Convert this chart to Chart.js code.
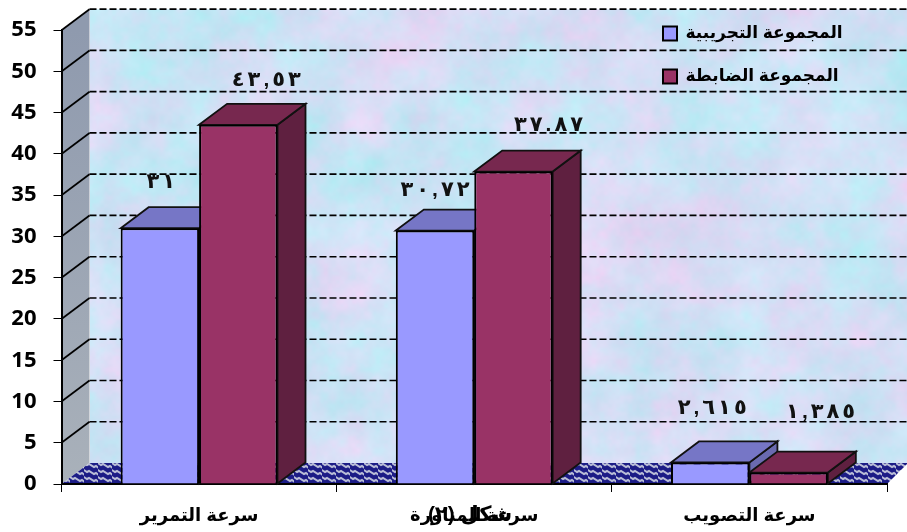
<!DOCTYPE html>
<html lang="ar">
<head>
<meta charset="utf-8">
<style>html,body{margin:0;padding:0;background:#fff}#w{width:907px;height:532px;position:relative}</style>
<script src="https://cdn.jsdelivr.net/npm/chart.js@4"></script>
</head>
<body>
<div id="w"><canvas id="c" width="907" height="532"></canvas></div>
<script>
const categories = ['سرعة التمرير', 'سرعة المناورة', 'سرعة التصويب'];
const seriesNames = ['المجموعة التجريبية', 'المجموعة الضابطة'];
const experimental = [31, 30.72, 2.615];
const control = [43.53, 37.87, 1.385];
const experimentalLabels = ['٣١', '٣٠,٧٢', '٢,٦١٥'];
const controlLabels = ['٤٣,٥٣', '٣٧.٨٧', '١,٣٨٥'];
const figureCaption = 'شكل (٢)';

const DX = 28, DY = 21;
const FRONT = ['#9999FF', '#993366'];
const TOP = ['#7676C6', '#77284F'];
const SIDE = ['#6A6AB0', '#5F2040'];
const LABEL_FONT = 'bold 21px "Liberation Sans", "DejaVu Sans", sans-serif';
const LABEL_GAP = 3;
// label anchor relative to the bar's top-centre
const labelShift = [[[1, -46], [0, -40], [2, -54]], [[28, -45], [35, -46], [32, -60]]];

function hash(i, j, s) {
  const v = Math.sin(i * 127.1 + j * 311.7 + s * 74.7) * 43758.5453;
  return v - Math.floor(v);
}
function vnoise(x, y, s) {
  const i = Math.floor(x), j = Math.floor(y);
  let u = x - i, v = y - j;
  u = u * u * (3 - 2 * u); v = v * v * (3 - 2 * v);
  const a = hash(i, j, s), b = hash(i + 1, j, s), c = hash(i, j + 1, s), d = hash(i + 1, j + 1, s);
  return a + (b - a) * u + (c - a) * v + (a - b - c + d) * u * v;
}
function fractal(x, y, s) {
  return vnoise(x / 55, y / 55, s) * .45 + vnoise(x / 22, y / 22, s + 1) * .28 + vnoise(x / 9, y / 9, s + 2) * .17 + vnoise(x / 4, y / 4, s + 3) * .10;
}
function wallTexture() {
  const c = document.createElement('canvas'); c.width = 830; c.height = 470;
  const x = c.getContext('2d'), im = x.createImageData(830, 470), d = im.data;
  for (let j = 0; j < 470; j++) for (let i = 0; i < 830; i++) {
    const pink = (fractal(i, j, 5) - .5) * 2.6, light = (fractal(i, j, 17) - .5) * 2.6;
    const p = (i + j * 830) * 4;
    d[p] = 210 + pink * 30 + light * 8;
    d[p + 1] = 224 - pink * 14 + light * 8;
    d[p + 2] = 245 + light * 6;
    d[p + 3] = 255;
  }
  x.putImageData(im, 0, 0); return c;
}
function floorPattern(ctx) {
  const c = document.createElement('canvas'); c.width = 14; c.height = 7;
  const x = c.getContext('2d');
  x.fillStyle = '#1C1C86'; x.fillRect(0, 0, 14, 7);
  x.strokeStyle = '#B9BDD6'; x.lineWidth = 2;
  x.beginPath(); x.moveTo(-2, 0); x.lineTo(3, 3); x.lineTo(5, 2); x.lineTo(10, 5); x.lineTo(12, 4); x.lineTo(16, 7); x.stroke();
  x.beginPath(); x.moveTo(-2, 7); x.lineTo(0, 8); x.stroke();
  x.beginPath(); x.moveTo(12, -3); x.lineTo(16, 0); x.stroke();
  return ctx.createPattern(c, 'repeat');
}
function poly(ctx, pts, fill, stroke, lw) {
  ctx.beginPath();
  pts.forEach((p, i) => i ? ctx.lineTo(p[0], p[1]) : ctx.moveTo(p[0], p[1]));
  ctx.closePath();
  if (fill) { ctx.fillStyle = fill; ctx.fill(); }
  if (stroke) { ctx.strokeStyle = stroke; ctx.lineWidth = lw; ctx.stroke(); }
}
function spacedText(ctx, text, cx, cy) {
  const chars = Array.from(text);
  const widths = chars.map(ch => ctx.measureText(ch).width);
  const total = widths.reduce((s, w) => s + w, 0) + LABEL_GAP * (chars.length - 1);
  let x = cx - total / 2;
  chars.forEach((ch, i) => { ctx.fillText(ch, x, cy); x += widths[i] + LABEL_GAP; });
}
const wall3d = {
  id: 'wall3d',
  beforeDraw(chart) {
    const l = chart.legend;
    if (l) { const h = l.height, w = l.width; l.left = 637; l.right = 637 + w; l.top = -1; l.bottom = h - 1; }
    const { ctx, chartArea: a, scales: { y } } = chart;
    const y0 = y.getPixelForValue(0), yt = y.getPixelForValue(55);
    ctx.save();
    ctx.beginPath(); ctx.rect(a.left + DX, yt - DY, 907 - a.left - DX, y0 - yt); ctx.clip();
    ctx.drawImage(wallTexture(), a.left + DX, yt - DY);
    ctx.restore(); ctx.save();
    const g = ctx.createLinearGradient(0, yt, 0, y0);
    g.addColorStop(0, '#8F9AAE'); g.addColorStop(1, '#A9B1BA');
    poly(ctx, [[a.left, yt], [a.left + DX, yt - DY], [a.left + DX, y0 - DY], [a.left, y0]], g);
    poly(ctx, [[a.left, y0], [a.left + DX, y0 - DY], [907, y0 - DY], [907, y0 - DY + 1], [a.right, y0]], floorPattern(ctx));
    ctx.strokeStyle = '#000'; ctx.lineWidth = 1.7;
    y.ticks.forEach(t => {
      const py = y.getPixelForValue(t.value);
      if (t.value > 0) {
        ctx.setLineDash([]);
        ctx.beginPath(); ctx.moveTo(a.left, py); ctx.lineTo(a.left + DX, py - DY); ctx.stroke();
        ctx.setLineDash([7, 3]);
        ctx.beginPath(); ctx.moveTo(a.left + DX, py - DY); ctx.lineTo(907, py - DY); ctx.stroke();
      }
    });
    ctx.restore();
  },
  beforeDatasetsDraw(chart) {
    const { ctx } = chart;
    ctx.save();
    chart.data.datasets.forEach((ds, di) => {
      chart.getDatasetMeta(di).data.forEach(b => {
        const l = b.x - b.width / 2, r = b.x + b.width / 2, t = b.y, bt = b.base;
        poly(ctx, [[r, bt], [r + DX, bt - DY], [r + DX, t - DY], [r, t]], SIDE[di], '#111', 1.8);
        poly(ctx, [[l, t], [l + DX, t - DY], [r + DX, t - DY], [r, t]], TOP[di], '#111', 1.8);
      });
    });
    ctx.restore();
  },
  afterDatasetsDraw(chart) {
    const { ctx } = chart;
    const allLabels = [experimentalLabels, controlLabels];
    ctx.save();
    ctx.font = LABEL_FONT; ctx.fillStyle = '#111';
    ctx.textAlign = 'left'; ctx.textBaseline = 'middle';
    chart.data.datasets.forEach((ds, di) => {
      chart.getDatasetMeta(di).data.forEach((b, i) => {
        const s = labelShift[di][i];
        spacedText(ctx, allLabels[di][i], b.x + s[0], b.y + s[1]);
      });
    });
    ctx.textAlign = 'center';
    ctx.font = 'bold 21px "Liberation Sans", "DejaVu Sans", sans-serif';
    ctx.fillStyle = '#000';
    ctx.fillText(figureCaption, 470, 515);
    ctx.restore();
  }
};
Chart.defaults.animation = false;
new Chart(document.getElementById('c'), {
  type: 'bar',
  data: {
    labels: categories,
    datasets: [
      { label: seriesNames[0], data: experimental, backgroundColor: FRONT[0], borderColor: '#000', borderWidth: 2 },
      { label: seriesNames[1], data: control, backgroundColor: FRONT[1], borderColor: '#000', borderWidth: 2 }
    ]
  },
  options: {
    responsive: false,
    devicePixelRatio: 1,
    layout: { padding: { left: 0, right: 20, top: 28, bottom: 0 } },
    datasets: { bar: { categoryPercentage: 0.57, barPercentage: 1 } },
    scales: {
      x: {
        grid: { drawOnChartArea: false, color: '#000', tickLength: 8, lineWidth: 1, offset: true },
        border: { color: '#000', width: 2 },
        afterFit(s) { s.height = 48; },
        ticks: { color: '#000', padding: 13, maxRotation: 0, font: { family: '"Liberation Sans", "DejaVu Sans", sans-serif', weight: 'bold', size: 18 } }
      },
      y: {
        min: 0, max: 55,
        grid: { drawOnChartArea: false, color: '#000', tickLength: 8, lineWidth: 1 },
        border: { color: '#000', width: 2 },
        afterFit(s) { s.width = 61.5; },
        ticks: { stepSize: 5, color: '#000', padding: 17, font: { family: '"Open Sans", sans-serif', weight: 'bold', size: 22 } }
      }
    },
    plugins: {
      tooltip: { enabled: false },
      title: { display: false },
      legend: {
        display: true, position: 'chartArea', align: 'start',
        labels: {
          boxWidth: 14, boxHeight: 14, padding: 26, color: '#000',
          font: { family: '"Liberation Sans", "DejaVu Sans", sans-serif', weight: 'bold', size: 17 },
          generateLabels(chart) {
            return chart.data.datasets.map((d, i) => ({ text: d.label, fillStyle: FRONT[i], strokeStyle: '#000', lineWidth: 2, datasetIndex: i, fontColor: '#000' }));
          }
        }
      }
    }
  },
  plugins: [wall3d]
});
</script>
</body>
</html>
